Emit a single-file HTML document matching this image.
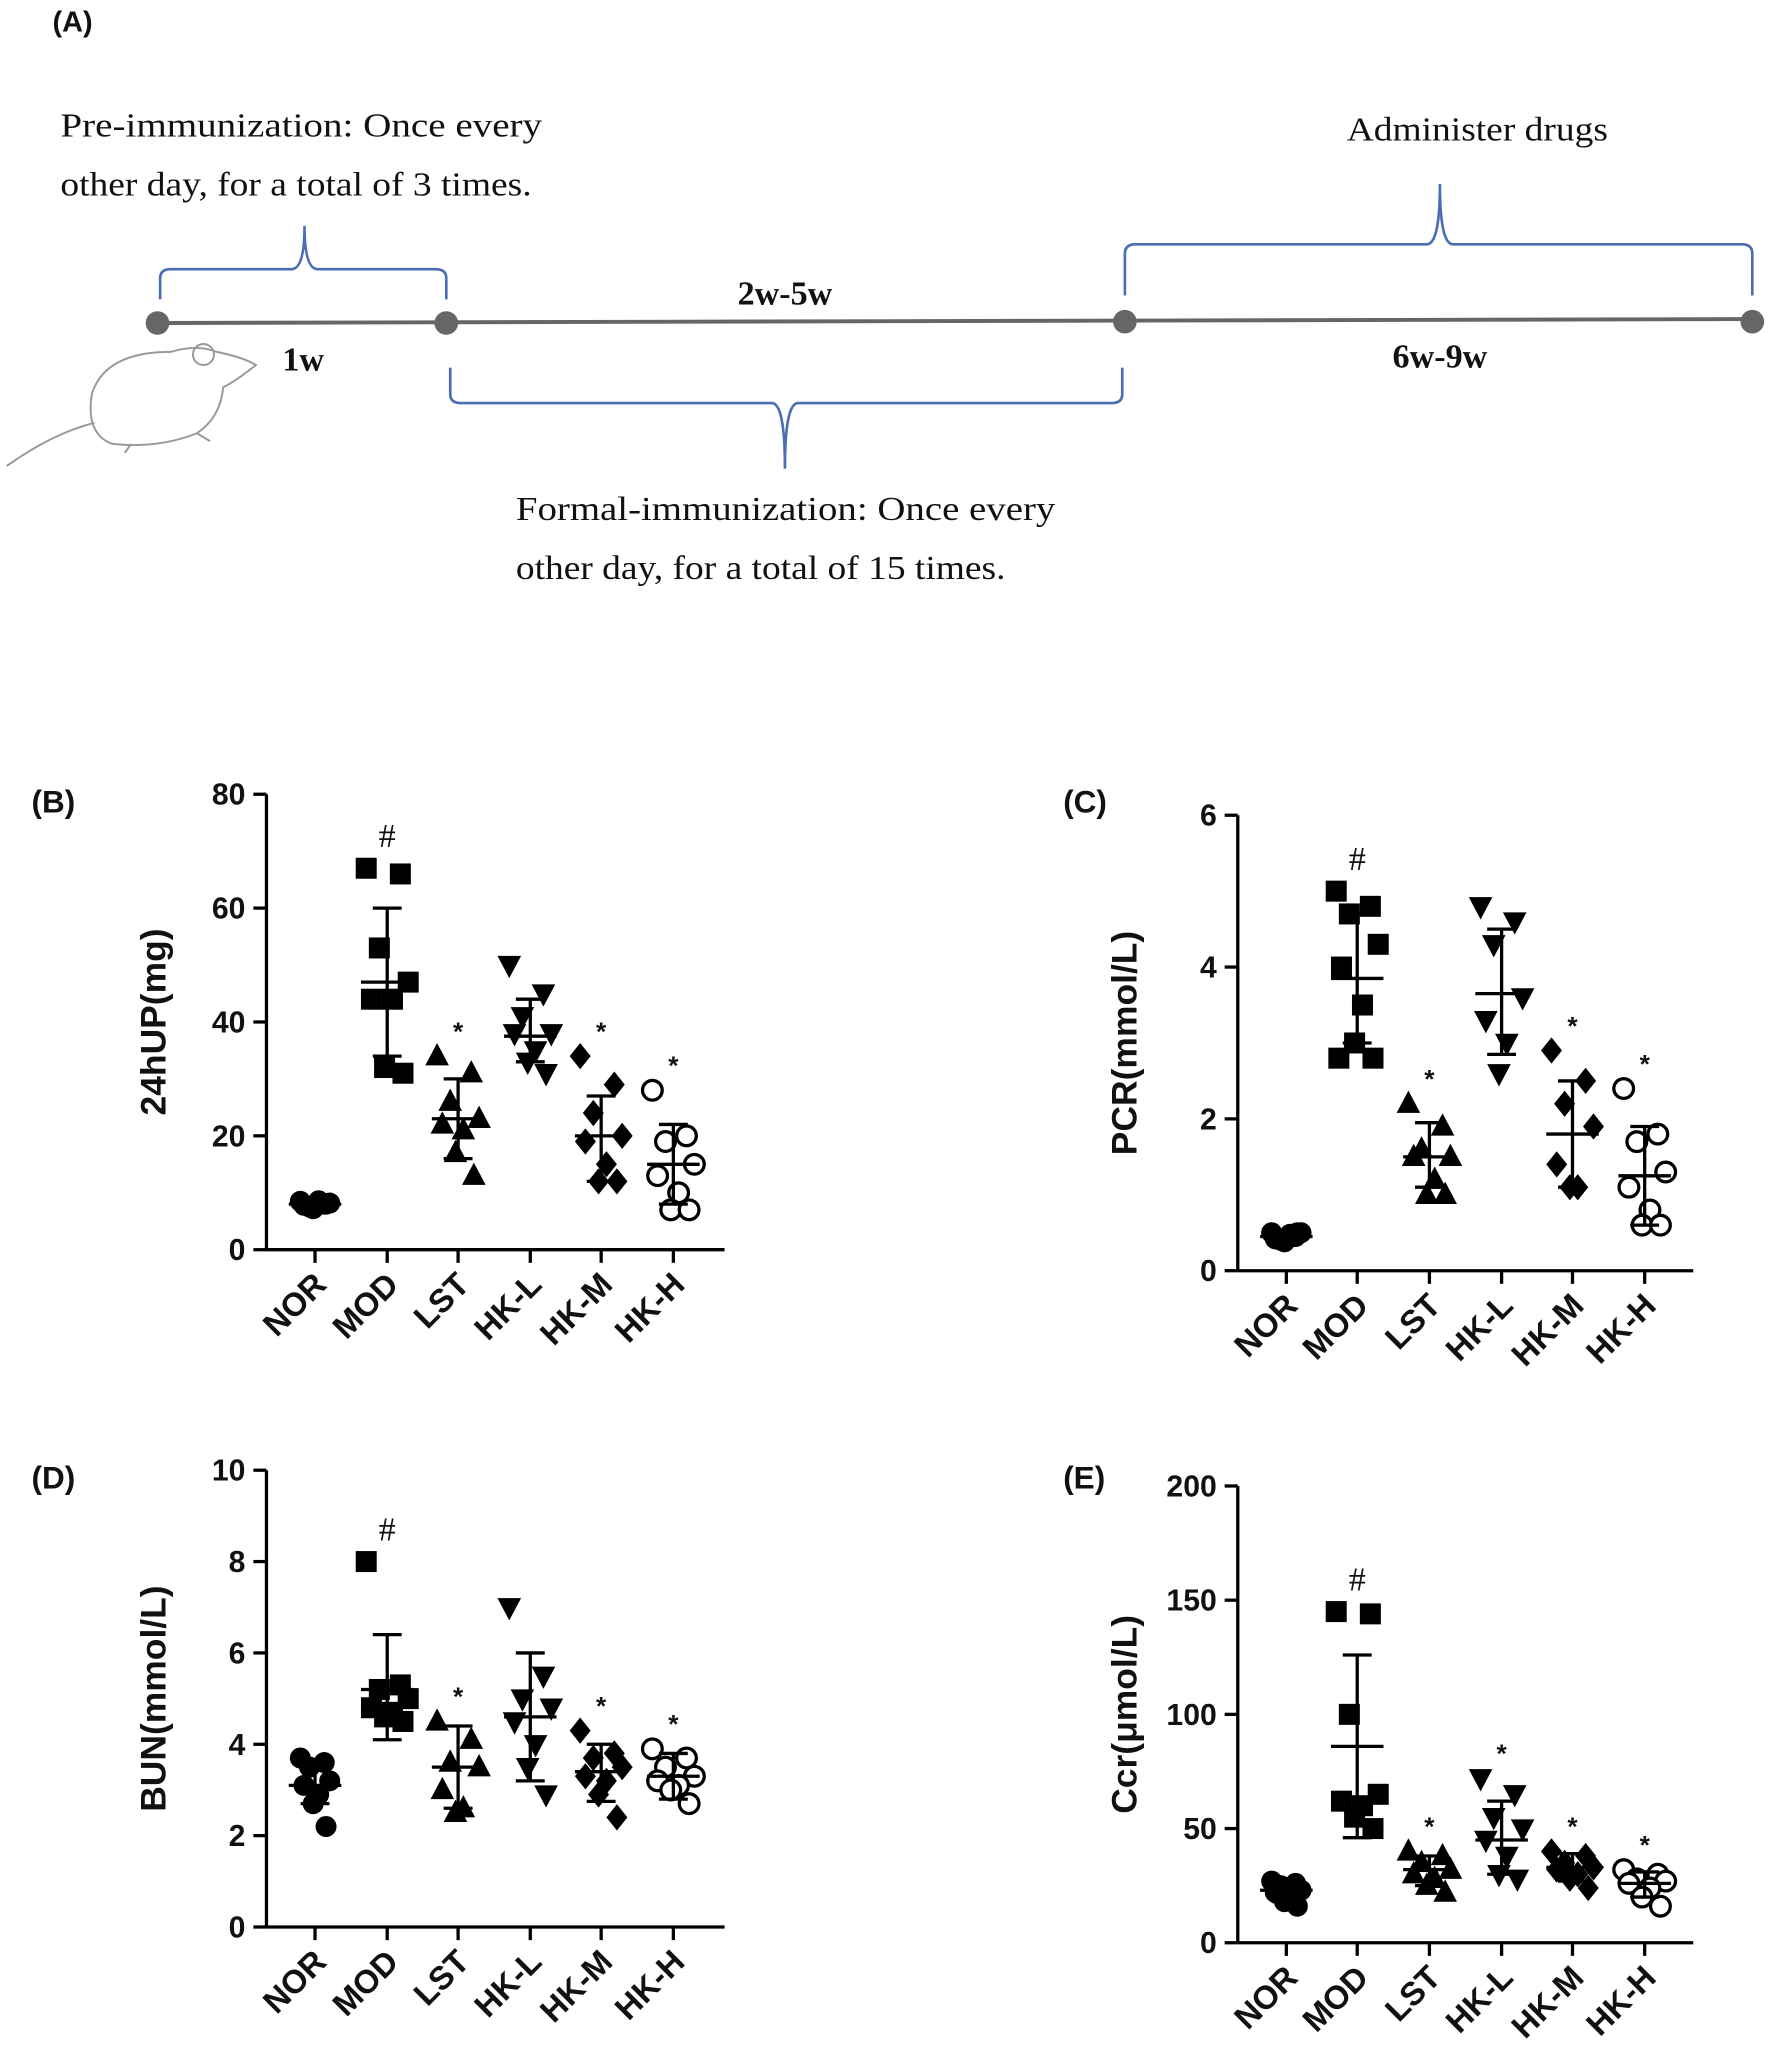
<!DOCTYPE html>
<html><head><meta charset="utf-8"><style>
html,body{margin:0;padding:0;background:#fff}
svg{display:block}
.s{font-family:"Liberation Serif",serif;font-size:26px;fill:#111}
.b{font-family:"Liberation Sans",sans-serif;font-weight:bold;fill:#111}
</style></head><body>
<svg id="svg" width="1772" height="2061" viewBox="0 0 1350 1570" xmlns="http://www.w3.org/2000/svg">
<text x="40" y="24" class="b" font-size="22">(A)</text>
<text x="46" y="104" class="s" textLength="367" lengthAdjust="spacingAndGlyphs">Pre-immunization: Once every</text>
<text x="46" y="149" class="s" textLength="359" lengthAdjust="spacingAndGlyphs">other day, for a total of 3 times.</text>
<text x="1026" y="107" class="s" textLength="199" lengthAdjust="spacingAndGlyphs">Administer drugs</text>
<text x="393" y="396" class="s" textLength="411" lengthAdjust="spacingAndGlyphs">Formal-immunization: Once every</text>
<text x="393" y="441" class="s" textLength="373" lengthAdjust="spacingAndGlyphs">other day, for a total of 15 times.</text>
<line x1="120" y1="246" x2="1335" y2="243" stroke="#666" stroke-width="3"/>
<g fill="#666"><circle cx="120" cy="246" r="9"/><circle cx="340" cy="246" r="9"/><circle cx="857" cy="245" r="9"/><circle cx="1335" cy="245" r="9"/></g>
<g fill="none" stroke="#4a6db3" stroke-width="2">
<path d="M122 228 V212 Q122 205 130 205 H222 Q232 205 232 172 Q232 205 242 205 H332 Q340 205 340 212 V228"/>
<path d="M343 280 V300 Q343 307 351 307 H588 Q598 307 598 357 Q598 307 608 307 H847 Q855 307 855 300 V280"/>
<path d="M857 225 V193 Q857 186 865 186 H1087 Q1097 186 1097 140 Q1097 186 1107 186 H1327 Q1335 186 1335 193 V225"/>
</g>
<text x="231" y="282" class="s" font-weight="bold" text-anchor="middle">1w</text>
<text x="598" y="232" class="s" font-weight="bold" text-anchor="middle">2w-5w</text>
<text x="1097" y="280" class="s" font-weight="bold" text-anchor="middle">6w-9w</text>
<g fill="none" stroke="#999" stroke-width="1.5">
<path d="M70 300 Q80 268 130 268 Q150 262 165 268 Q185 272 195 278 Q180 290 170 295 Q168 318 150 330 Q120 342 85 338 Q65 330 70 300Z"/>
<circle cx="155" cy="270" r="8"/>
<path d="M72 322 Q40 330 5 355"/>
<path d="M150 330 L160 336 M100 338 L95 345"/>
</g>
<g id="charts"></g>
</svg>
<script>
const g=document.getElementById('charts');let h='';
const cats=['NOR','MOD','LST','HK-L','HK-M','HK-H'];
function mk(t,x,y){
 if(t==0)return `<circle cx="${x}" cy="${y}" r="8" fill="#000"/>`;
 if(t==1)return `<rect x="${x-8}" y="${y-8}" width="16" height="16" fill="#000"/>`;
 if(t==2)return `<polygon points="${x},${y-10} ${x+9},${y+7} ${x-9},${y+7}" fill="#000"/>`;
 if(t==3)return `<polygon points="${x},${y+10} ${x+9},${y-7} ${x-9},${y-7}" fill="#000"/>`;
 if(t==4)return `<polygon points="${x},${y-10} ${x+8},${y} ${x},${y+10} ${x-8},${y}" fill="#000"/>`;
 return `<circle cx="${x}" cy="${y}" r="7.5" fill="#fff" stroke="#000" stroke-width="2.5"/>`;
}
const jit=[-16,10,-6,16,-12,4,-2,12,-14];
function panel(P){
 const {ax,top,bot,xr,max,step,lab,lx,ly,yt,data,xs,sig}=P;
 const sc=v=>bot-(v/max)*(bot-top);
 h+=`<text x="${lx}" y="${ly}" class="b" font-size="24">${lab}</text>`;
 h+=`<line x1="${ax}" y1="${top}" x2="${ax}" y2="${bot}" stroke="#000" stroke-width="2.5"/>`;
 h+=`<line x1="${ax}" y1="${bot}" x2="${xr}" y2="${bot}" stroke="#000" stroke-width="2.5"/>`;
 for(let v=0;v<=max+1e-9;v+=step){const y=sc(v);h+=`<line x1="${ax-10}" y1="${y}" x2="${ax}" y2="${y}" stroke="#000" stroke-width="2.5"/><text x="${ax-16}" y="${y+8}" class="b" font-size="23" text-anchor="end">${v}</text>`;}
 h+=`<text transform="translate(${ax-77},${(top+bot)/2}) rotate(-90)" class="b" font-size="27" text-anchor="middle">${yt}</text>`;
 cats.forEach((c,i)=>{const x=xs[i];h+=`<line x1="${x}" y1="${bot}" x2="${x}" y2="${bot+10}" stroke="#000" stroke-width="2.5"/>`;
  h+=`<text transform="translate(${x+10},${bot+28}) rotate(-45)" class="b" font-size="25" text-anchor="end">${c}</text>`;
  const d=data[i];d.pts.forEach((v,k)=>{h+=mk(i,x+(i==0?jit[k]*0.7:jit[k]),sc(v));});
  const m=sc(d.m),lo=sc(d.lo),hi=sc(d.hi);
  h+=`<g stroke="#000" stroke-width="2.5"><line x1="${x}" y1="${lo}" x2="${x}" y2="${hi}"/><line x1="${x-11}" y1="${lo}" x2="${x+11}" y2="${lo}"/><line x1="${x-11}" y1="${hi}" x2="${x+11}" y2="${hi}"/><line x1="${x-20}" y1="${m}" x2="${x+20}" y2="${m}"/></g>`;
  if(sig[i]){const top2=Math.min(sc(Math.max(...d.pts)),hi);h+=`<text x="${x}" y="${top2-(sig[i]=='#'?16:12)}" class="${sig[i]=='#'?'s':'b'}" font-size="${sig[i]=='#'?28:20}" text-anchor="middle">${sig[i]}</text>`;}
 });
}
const sg=['', '#','*','', '*','*'];
const d=(pts,m,lo,hi)=>({pts,m,lo,hi});
const XL=[240,295,349,404,458,513],XR=[980,1034,1089,1144,1198,1253];
panel({ax:203,top:605,bot:952,xr:552,max:80,step:20,lab:'(B)',lx:24,ly:619,yt:'24hUP(mg)',xs:XL,sig:sg,data:[
 d([8.5,8,7.5,8.2,7.8,8.6,7.2,8],8,7.5,8.5),
 d([67,66,53,47,44,44,32,31],47,34,60),
 d([34,31,26,23,22,21,17,13],23,16,30),
 d([50,45,41,38,38,35,33,31],37.5,33,44),
 d([34,29,24,20,19,15,12,12],20,12,27),
 d([28,20,19,15,13,10,7,7],15,8,22)]});
panel({ax:943,top:621,bot:968,xr:1290,max:6,step:2,lab:'(C)',lx:810,ly:619,yt:'PCR(mmol/L)',xs:XR,sig:[ '', '#','*','', '*','*'],data:[
 d([0.5,0.45,0.4,0.5,0.42,0.48,0.38,0.5],0.45,0.4,0.5),
 d([5.0,4.8,4.7,4.3,4.0,3.5,3.0,2.8,2.8],3.85,3.0,4.7),
 d([2.2,1.9,1.6,1.5,1.5,1.2,1.0,1.0],1.5,1.1,1.95),
 d([4.8,4.6,4.3,3.6,3.3,3.0,2.6],3.65,2.85,4.5),
 d([2.9,2.5,2.2,1.9,1.4,1.1,1.1],1.8,1.1,2.5),
 d([2.4,1.8,1.7,1.3,1.1,0.8,0.6,0.6],1.25,0.6,1.9)]});
panel({ax:203,top:1120,bot:1468,xr:552,max:10,step:2,lab:'(D)',lx:24,ly:1134,yt:'BUN(mmol/L)',xs:XL,sig:sg,data:[
 d([3.7,3.6,3.5,3.2,3.1,2.9,2.7,2.2],3.1,2.7,3.6),
 d([8.0,5.3,5.2,5.0,4.8,4.7,4.6,4.5],5.2,4.1,6.4),
 d([4.5,4.1,3.6,3.5,3.0,2.6,2.5],3.5,2.6,4.4),
 d([7.0,5.5,5.0,4.8,4.5,4.0,3.5,2.9],4.6,3.2,6.0),
 d([4.3,3.8,3.7,3.5,3.3,3.2,2.9,2.4],3.4,2.75,4.0),
 d([3.9,3.7,3.5,3.3,3.2,3.1,3.0,2.7],3.3,2.8,3.8)]});
panel({ax:943,top:1132,bot:1480,xr:1290,max:200,step:50,lab:'(E)',lx:810,ly:1134,yt:'Ccr(μmol/L)',xs:XR,sig:['', '#','*','*','*','*'],data:[
 d([27,26,25,23,22,20,18,16],23,18,27),
 d([145,144,100,65,62,60,55,50],86,46,126),
 d([40,38,35,32,30,28,25,22],32,25,38),
 d([72,65,55,50,45,38,30,28],45,30,62),
 d([40,38,35,33,32,30,28,24],33,27,39),
 d([32,30,28,27,26,24,20,16],26,20,31)]});
g.innerHTML=h;
</script>
</body></html>
